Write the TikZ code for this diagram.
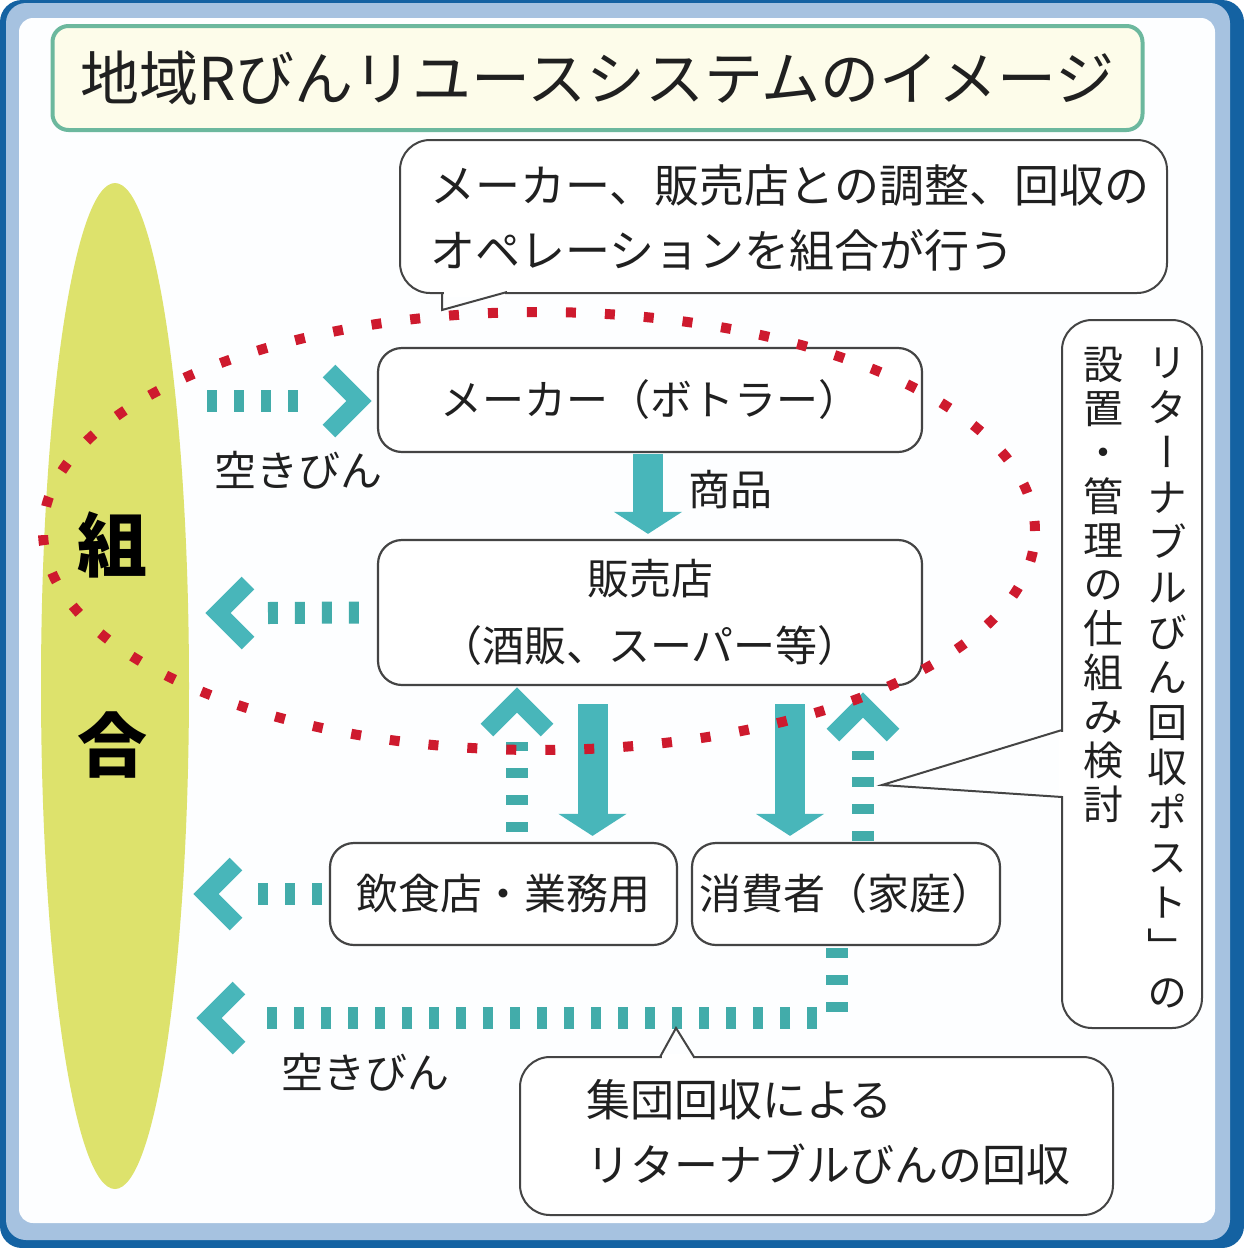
\documentclass[tikz,border=0pt]{standalone}
\usepackage{fontspec}
\setmainfont{Noto Sans CJK JP}
\newfontfamily\vjp[RawFeature=+vert]{Noto Sans CJK JP}
\usetikzlibrary{arrows.meta}
\definecolor{frameblue}{RGB}{20,98,162}
\definecolor{bandblue}{RGB}{166,194,224}
\definecolor{innerwhite}{RGB}{253,254,255}
\definecolor{titlefill}{RGB}{253,252,234}
\definecolor{titleline}{RGB}{108,184,158}
\definecolor{yel}{RGB}{221,226,108}
\definecolor{dotred}{RGB}{206,26,46}
\definecolor{chevc}{RGB}{72,182,186}
\definecolor{dashc}{RGB}{66,172,170}
\definecolor{boxline}{RGB}{68,68,68}
\definecolor{ink}{RGB}{32,32,32}
\begin{document}
\begin{tikzpicture}[x=1pt,y=-1pt,
  txt/.style={inner sep=0pt, text=ink, font=\fontsize{42}{67}\selectfont},
  box/.style={draw=boxline, line width=2.2pt, fill=white, rounded corners=24pt, inner sep=0pt, text=ink, font=\fontsize{42}{67}\selectfont, align=center},
  callout/.style={draw=boxline, line width=2pt, fill=white, rounded corners=30pt, inner sep=0pt},
  tailline/.style={draw=boxline, line width=2pt, line join=miter},
  solidarr/.style={draw=chevc, line width=30pt, -{Triangle[width=67pt,length=22pt]}},
  tdots/.style={draw=dashc, line width=22pt, dash pattern=on 10pt off 17pt},
  chev/.style={draw=chevc, line width=18pt, line join=miter},
  reddots/.style={draw=dotred, line width=10pt, dash pattern=on 10pt off 29pt},
  ]
\useasboundingbox (0,0) rectangle (1244,1248);
% frame
\fill[white] (0,0) rectangle (1244,1248);
\fill[frameblue, rounded corners=22pt] (0,0) rectangle (1244,1248);
\fill[bandblue, rounded corners=20pt] (6,3) rectangle (1230,1240);
\fill[innerwhite, rounded corners=14pt] (19,18) rectangle (1215,1223);

% title
\node[draw=titleline, line width=4pt, fill=titlefill, rounded corners=16pt,
      minimum width=1090pt, minimum height=104pt, inner sep=0pt, text=ink,
      font=\fontsize{59}{59}\selectfont] (title) at (597.5,78)
      {地域Rびんリユースシステムのイメージ};

% union ellipse
\fill[yel] (115,686) ellipse [x radius=74pt, y radius=503pt];
\node[txt, font=\fontsize{70}{70}\selectfont\bfseries, text=black] (kumi) at (112,545) {組};
\node[txt, font=\fontsize{70}{70}\selectfont\bfseries, text=black] (ai) at (112,745) {合};

% boxes
\node[box, minimum width=544pt, minimum height=104pt] (maker) at (650,400) {メーカー（ボトラー）};
\node[box, minimum width=544pt, minimum height=145pt] (shop) at (650,612.5) {販売店\\（酒販、スーパー等）};
\node[box, minimum width=347pt, minimum height=102pt] (eat) at (503.5,894) {飲食店・業務用};
\node[box, minimum width=308pt, minimum height=102pt] (home) at (846,894) {消費者（家庭）};

% solid arrows
\draw[solidarr] ([xshift=-2pt,yshift=-1pt]maker.south) -- ([xshift=-2pt,yshift=5pt]shop.north);
\draw[solidarr] ([xshift=-57.5pt,yshift=-18pt]shop.south) -- ([xshift=89pt,yshift=6pt]eat.north);
\draw[solidarr] ([xshift=140pt,yshift=-18pt]shop.south) -- ([xshift=-56pt,yshift=6pt]home.north);
\node[txt] (goods) at (730,490) {商品};

% coordinates for dotted flows
\coordinate (r1s) at (207,401); \coordinate (r1e) at (302,401); \coordinate (c1) at (359,401);
\coordinate (r2e) at (268,613); \coordinate (c2) at (218,613);
\coordinate (r3e) at (257,894); \coordinate (c3) at (206,894);
\coordinate (r4a) at (837,1012); \coordinate (r4b) at (817,1018); \coordinate (r4e) at (257,1018); \coordinate (c4) at (209,1018);
\coordinate (u1e) at (517,742); \coordinate (cu1) at (517,700);
\coordinate (u2e) at (863,751); \coordinate (cu2) at (863,705);

% row 1: to maker
\draw[tdots] (r1s) -- (r1e);
\draw[chev] ([shift={(-30pt,30pt)}]c1) -- (c1) -- ([shift={(-30pt,-30pt)}]c1);
\node[txt] (aki1) at (298,470) {空きびん};
% row 2: from shop
\draw[tdots] ([xshift=-18pt]shop.west) -- (r2e);
\draw[chev] ([shift={(30pt,30pt)}]c2) -- (c2) -- ([shift={(30pt,-30pt)}]c2);
% row 3: from eat
\draw[tdots] ([xshift=-7pt]eat.west) -- (r3e);
\draw[chev] ([shift={(30pt,30pt)}]c3) -- (c3) -- ([shift={(30pt,-30pt)}]c3);
% row 4: from home
\draw[tdots] ([xshift=-9pt,yshift=-2pt]home.south) -- (r4a);
\draw[tdots] (r4b) -- (r4e);
\draw[chev] ([shift={(30pt,30pt)}]c4) -- (c4) -- ([shift={(30pt,-30pt)}]c4);
\node[txt] (aki2) at (365,1072) {空きびん};
% up flows
\draw[tdots] ([xshift=13.5pt,yshift=10pt]eat.north) -- (u1e);
\draw[chev] ([shift={(-30pt,-30pt)}]cu1) -- (cu1) -- ([shift={(30pt,-30pt)}]cu1);
\draw[tdots] ([xshift=17pt,yshift=1pt]home.north) -- (u2e);
\draw[chev] ([shift={(-30pt,-30pt)}]cu2) -- (cu2) -- ([shift={(30pt,-30pt)}]cu2);

% top callout
\node[callout, minimum width=767pt, minimum height=153pt] (note1) at (783.5,216.5) {};
\fill[white] (443.5,290) rectangle (505,296.5);
\draw[tailline] (442,292) -- (442,310) -- (507,292);
\node[txt, anchor=west, align=left, font=\fontsize{45}{65}\selectfont] (note1t) at (430,217.5)
  {メーカー、販売店との調整、回収の\\オペレーションを組合が行う};

% right vertical callout
\node[callout, minimum width=140pt, minimum height=708pt] (note2) at (1132,674) {};
\fill[white] (1059,731.5) rectangle (1065,795.5);
\draw[tailline] (1062,730) -- (882,785) -- (1062,797);
\node[txt, anchor=north, align=center, font=\vjp\fontsize{40}{45}\selectfont] (v1) at (1167,347)
  {リ\\タ\\ー\\ナ\\ブ\\ル\\び\\ん\\回\\収\\ポ\\ス\\ト\\」\\の};
\node[txt, anchor=north, align=center, font=\vjp\fontsize{40}{44}\selectfont] (v2) at (1103,347)
  {設\\置\\・\\管\\理\\の\\仕\\組\\み\\検\\討};

% bottom callout
\node[callout, minimum width=593pt, minimum height=158pt] (note3) at (816.5,1136) {};
\fill[white] (661.5,1054) rectangle (692.5,1060);
\draw[tailline] (660,1057) -- (676,1028) -- (694,1057);
\node[txt, anchor=west, align=left, font=\fontsize{44}{65}\selectfont] (note3t) at (586,1132.5)
  {集団回収による\\リターナブルびんの回収};

% red dotted ellipse
\draw[reddots] (539,531) ellipse [x radius=496pt, y radius=219pt];
\end{tikzpicture}
\end{document}
